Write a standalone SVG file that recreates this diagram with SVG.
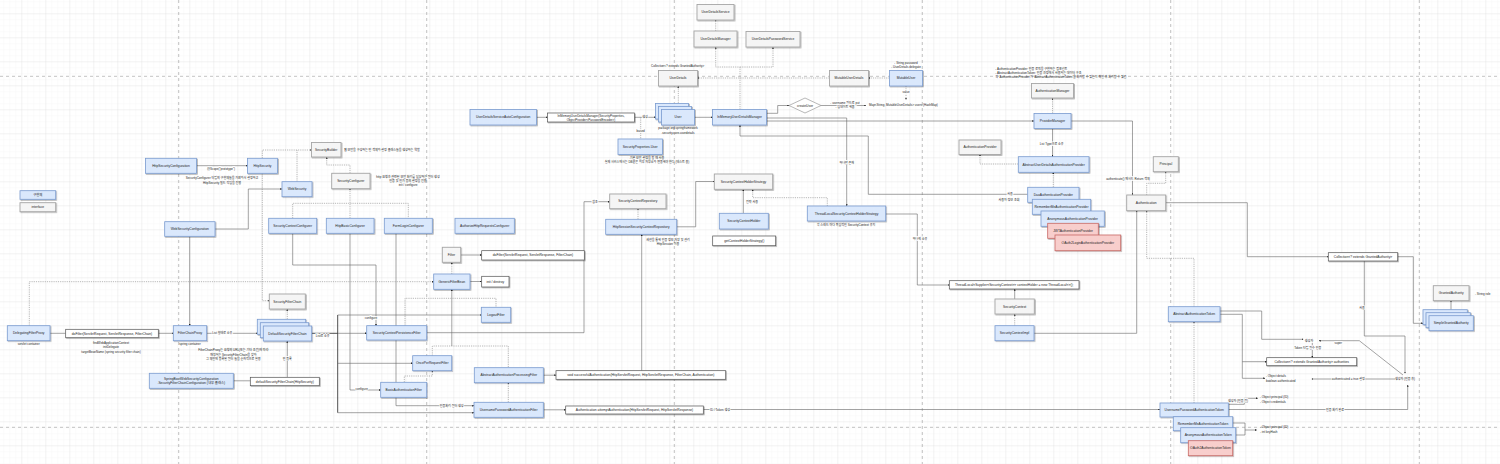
<svg xmlns="http://www.w3.org/2000/svg" width="1500" height="464" viewBox="0 0 1500 464">
<defs>
<pattern id="minor" x="21.3" y="13.3" width="6" height="6" patternUnits="userSpaceOnUse"><path d="M0 0H6M0 0V6" fill="none" stroke="#f1f1f1" stroke-width="0.5"/></pattern>
<pattern id="major" x="21.3" y="13.3" width="24" height="24" patternUnits="userSpaceOnUse"><path d="M0 0H24M0 0V24" fill="none" stroke="#dcdcdc" stroke-width="0.6"/></pattern>
<marker id="a" viewBox="0 0 10 10" refX="9" refY="5" markerWidth="3.2" markerHeight="3.2" orient="auto"><path d="M0 0L10 5L0 10z" fill="#222"/></marker>
<filter id="sh" x="-10%" y="-20%" width="130%" height="160%"><feDropShadow dx="0.8" dy="0.8" stdDeviation="0.5" flood-opacity="0.35"/></filter>
</defs>
<style>
.b{fill:#dae8fc;stroke:#7b9cd0;stroke-width:0.8;filter:url(#sh)}
.g{fill:#f5f5f5;stroke:#a6a6a6;stroke-width:0.9;filter:url(#sh)}
.r{fill:#f8cecc;stroke:#c86a66;stroke-width:0.8;filter:url(#sh)}
.w{fill:#ffffff;stroke:#555;stroke-width:0.7;filter:url(#sh)}
text{font-family:"Liberation Sans","Noto Sans CJK KR",sans-serif;fill:#222}
.t{font-size:3.3px;text-anchor:middle;dominant-baseline:central}
.s{font-size:3px;text-anchor:middle;dominant-baseline:central}
.sl{font-size:3px;dominant-baseline:central}
.lb{font-size:3px;text-anchor:middle;dominant-baseline:central;stroke:#fff;stroke-width:1.4;paint-order:stroke}
.c{fill:none;stroke:#666;stroke-width:0.6;marker-end:url(#a)}
.n{fill:none;stroke:#666;stroke-width:0.6}
.d{fill:none;stroke:#888;stroke-width:0.6;stroke-dasharray:1.2 1;marker-end:url(#a)}
.dn{fill:none;stroke:#888;stroke-width:0.6;stroke-dasharray:1.2 1}
.k{fill:none;stroke:#222;stroke-width:0.8;marker-end:url(#a)}
.kn{fill:none;stroke:#222;stroke-width:0.8}
.div{fill:none;stroke:#9a9a9a;stroke-width:0.6;stroke-dasharray:3 3}
</style>
<rect width="1500" height="464" fill="#fff"/>
<rect width="1500" height="464" fill="url(#minor)"/>
<rect width="1500" height="464" fill="url(#major)"/>
<g id="dividers">
<path class="div" d="M178.7 0V464M426.7 0V464M674.3 0V464M922.3 0V464M1170.7 0V464M1419.3 0V464M0 76.3H1500M0 427.3H1500"/>
</g>
<g id="connectors">
<path class="d" d="M715.7 31V19.7"/>
<path class="d" d="M740 109.5V67H715.7V47"/>
<path class="d" d="M740 67H773V47"/>
<path class="d" d="M829.5 78H697.7"/>
<path class="d" d="M889.5 78H868.5"/>
<path class="d" d="M906 86V99.5"/>
<path class="d" d="M678.3 109.5V86"/>
<path class="c" d="M536.5 117.3H547.5"/>
<path class="c" d="M634.5 117.3H656"/>
<path class="dn" d="M640.7 117.3V139"/>
<path class="c" d="M694.5 117.3H712.5"/>
<path class="c" d="M766.5 113.3H777.7V105.5H789"/>
<path class="c" d="M821 105.5H866"/>
<path class="c" d="M766.5 121H1034"/>
<path class="c" d="M766.5 118H846.7V206"/>
<path class="c" d="M1027.7 194.3H868.3V136H740V125"/>
<path class="d" d="M1052.5 113.5V98"/>
<path class="c" d="M1052.5 128.5V156.7"/>
<path class="c" d="M1071 121H1132.5V195"/>
<path class="d" d="M1018.3 164H980V154.5"/>
<path class="d" d="M1053.3 187.3V172.3"/>
<path class="d" d="M262.3 158.3V150H311.5"/>
<path class="dn" d="M297 181.7V150"/>
<path class="c" d="M196.5 165.7H247.5"/>
<path class="c" d="M215 229H248.3V189H282"/>
<path class="d" d="M350 173.3V165H326.7V157"/>
<path class="dn" d="M292.7 218.3V203.3H408.3V218.3"/>
<path class="d" d="M350 218.3V188.7"/>
<path class="d" d="M262.3 173.3V300.7H269.3"/>
<path class="c" d="M292.7 233.3V265H376V325.7"/>
<path class="c" d="M350 233.3V390H380.7"/>
<path class="c" d="M396 233.3V405.7H474"/>
<path class="d" d="M29.3 325.7V281.7H433.7"/>
<path class="c" d="M189.7 236.3V325.7"/>
<path class="c" d="M460.7 255H481.7"/>
<path class="d" d="M451.8 274V262.3"/>
<path class="c" d="M470 281.5H481.7"/>
<path class="c" d="M451.8 346V289.3"/>
<path class="dn" d="M405 325.7V298.3H496V307.3"/>
<path class="dn" d="M432.3 355.7V346H508.3V367.7"/>
<path class="d" d="M404.3 382.3V376H432.3V370.7"/>
<path class="d" d="M508.3 402.3V382.7"/>
<path class="c" d="M543.3 375.2H556"/>
<path class="c" d="M543.3 409.8H565.7"/>
<path class="c" d="M703.3 409.5H1160"/>
<path class="c" d="M426.7 332.7H584V201.7H609.7"/>
<path class="d" d="M638 219.3V208.7"/>
<path class="c" d="M641.7 370.7V234.3"/>
<path class="c" d="M676.7 226.8H695.7V181.5H714.3"/>
<path class="c" d="M743.3 213.3V189.3"/>
<path class="d" d="M827.3 206V197.7H752.7V189.3"/>
<path class="c" d="M885.7 214H917.3V285H949.3"/>
<path class="c" d="M1014.7 299V289"/>
<path class="d" d="M1014.7 325.7V314"/>
<path class="c" d="M1034 333.3H1136.7V210.7"/>
<path class="d" d="M1146.7 195V183.3H1165.7V171.7"/>
<path class="d" d="M1194 306.7V258.3H1146.7V210.7"/>
<path class="c" d="M1165.7 202.7H1247.3V256.7H1328.3"/>
<path class="c" d="M1364.3 261V336H1405V373.3"/>
<path class="c" d="M1397.7 256.7H1413.3V323.3H1423"/>
<path class="c" d="M1451 309.7V300.7"/>
<path class="c" d="M1220 311H1261.7V339.3H1303.3"/>
<path class="c" d="M1220 314.3H1242.3V378.3H1265"/>
<path class="c" d="M1242.3 361.7H1266.7"/>
<path class="c" d="M1312.3 343V357.7"/>
<path class="c" d="M1403 375L1359.3 340.7H1319"/>
<path class="c" d="M1395 379H1311.7"/>
<path class="c" d="M1228.3 409.5H1407.7V385"/>
<path class="c" d="M1228.3 404.3H1244.3V398.3H1257.7"/>
<path class="c" d="M1232.7 423H1245V430H1256.7"/>
<path class="n" d="M1235.7 435H1245V430"/>
<path class="d" d="M1194 403V321.7"/>
<path class="n" d="M50 333.3H65.7"/>
<path class="c" d="M158.3 333.3H173.3"/>
<path class="c" d="M206.7 333.3H257.3"/>
<path class="c" d="M287.3 377.3V341"/>
<path class="d" d="M287.3 319.3V309"/>
<path class="n" d="M233.3 380.8H250.3"/>
<path class="kn" d="M311.7 333.3H337.7M337.7 315V412.7"/>
<path class="c" d="M337.7 315H481.3"/>
<path class="c" d="M337.7 333.3H366.7"/>
<path class="c" d="M337.7 363.3H412.7"/>
<path class="c" d="M337.7 412.7H474"/>
</g>
<g id="labels">
<text class="lb" x="645" y="117.3">생성</text>
<text class="lb" x="640.7" y="131">based</text>
<text class="lb" x="845" y="103.3">- username 필드로 put</text>
<text class="lb" x="845" y="107.3">- 업데이트 해줌</text>
<text class="lb" x="906" y="92">value</text>
<text class="lb" x="846.7" y="163.3">하나만 존재</text>
<text class="lb" x="1010" y="194.3">사용</text>
<text class="lb" x="1009" y="200">사용자 정보 조회</text>
<text class="lb" x="1051.7" y="143.7">List Type으로 소유</text>
<text class="lb" x="1128" y="178.7">authenticate() 메서드 Return 객체</text>
<text class="lb" x="221" y="169.3">@Scope("prototype")</text>
<text class="lb" x="371" y="318">configure</text>
<text class="lb" x="361.7" y="389">configure</text>
<text class="lb" x="451.7" y="405.7">인증처리 필터 생성</text>
<text class="lb" x="595" y="201.7">참조</text>
<text class="lb" x="752" y="201.7">전략 사용</text>
<text class="lb" x="920" y="239.3">하나씩 소유</text>
<text class="lb" x="1362" y="308">사용</text>
<text class="lb" x="222.3" y="333.3">List 형태로 소유</text>
<text class="lb" x="287.3" y="359.3">빈 등록</text>
<text class="lb" x="322.7" y="336">List로 소유</text>
<text class="lb" x="720" y="409.5">ID / Token 생성</text>
<text class="lb" x="1307.7" y="347.7">Token 타입 필수 인증</text>
<text class="lb" x="1338.3" y="343.3">super</text>
<text class="lb" x="1348.3" y="379">authenticated = true 설정</text>
<text class="lb" x="1335" y="409.5">인증 처리 완료</text>
<text class="lb" x="1238" y="401">생성자 (인증 전)</text>
</g>
<g id="notes">
<text class="s" x="677.7" y="65.7">Collection&lt;? extends GrantedAuthority&gt;</text>
<text class="s" x="906" y="62.7">- String password</text>
<text class="s" x="906" y="66.7">- UserDetails delegate</text>
<text class="sl" x="869" y="104.7">Map&lt;String, MutableUserDetails&gt; users (HashMap)</text>
<text class="sl" x="995.3" y="69.3">- AuthenticationProvider: 인증 로직을 구현하는 컴포넌트</text>
<text class="sl" x="995.3" y="73">- AbstractAuthenticationToken: 인증 과정에서 사용되는 데이터 구조</text>
<text class="sl" x="995.3" y="76.7">각 'AuthenticationProvider'가 'AbstractAuthenticationToken'을 처리할 수 있는지 확인 후 처리할 수 있음</text>
<text class="s" x="678" y="128.3">package org.springframework</text>
<text class="s" x="678" y="132.7">.security.core.userdetails</text>
<text class="s" x="647" y="157.7">기본 보안 설정을 할 때 사용</text>
<text class="s" x="647" y="161.7">실제 서비스에서는 DB같은 외부 저장소와 연동해야 한다 (테스트 용)</text>
<text class="sl" x="344" y="150">웹 보안을 구성하는 빈 객체와 설정 클래스들을 생성하는 역할</text>
<text class="s" x="222" y="178.3">SecurityConfigurer 타입의 구현체들을 가져와서 설정하고</text>
<text class="s" x="222" y="182.7">HttpSecurity 빌드 작업을 진행</text>
<text class="s" x="408" y="176.7">http 요청과 관련된 보안 처리를 담당하는 필터 생성</text>
<text class="s" x="408" y="180.7">인증 및 인가 등의 설정을 진행</text>
<text class="s" x="408" y="185">init / configure</text>
<text class="s" x="668" y="240">세션을 통해 인증 정보 저장 및 관리</text>
<text class="s" x="668" y="243.7">HttpSession 이용</text>
<text class="s" x="846" y="225">각 스레드 마다 독립적인 SecurityContext 유지</text>
<text class="sl" x="1475" y="293.7">- String role</text>
<text class="s" x="28.7" y="344.3">servlet container</text>
<text class="s" x="111" y="342.7">findWebApplicationContext</text>
<text class="s" x="111" y="347">initDelegate</text>
<text class="s" x="111" y="351.7">targetBeanName (spring security filter chain)</text>
<text class="s" x="190" y="344.3">spring container</text>
<text class="s" x="233.3" y="350.3">FilterChainProxy는 요청의 URL(또는 기타 조건)에 따라</text>
<text class="s" x="233.3" y="354.7">매칭되는 SecurityFilterChain을 찾아</text>
<text class="s" x="233.3" y="358.7">그 체인에 등록된 필터 들을 순차적으로 실행</text>
<text class="s" x="1309" y="340.7">생성자</text>
<text class="sl" x="1266" y="375.7">- Object details</text>
<text class="sl" x="1266" y="380.7">boolean authenticated</text>
<text class="s" x="1405" y="379.3">생성자 (인증 후)</text>
<text class="sl" x="1260" y="397">- Object principal (ID)</text>
<text class="sl" x="1260" y="401.7">- Object credentials</text>
<text class="sl" x="1260" y="427.3">- Object principal (ID)</text>
<text class="sl" x="1260" y="432">- int keyHash</text>
</g>
<g id="n-UserDetailsService"><rect class="g" x="697" y="4.5" width="37" height="15.5"/><text class="t" x="715.5" y="12.2">UserDetailsService</text></g>
<g id="n-UserDetailsManager"><rect class="g" x="694" y="31" width="43" height="16"/><text class="t" x="715.5" y="39">UserDetailsManager</text></g>
<g id="n-UserDetailsPasswordService"><rect class="g" x="746" y="31.5" width="54" height="15.5"/><text class="t" x="773" y="39.2">UserDetailsPasswordService</text></g>
<g id="n-UserDetails"><rect class="g" x="658.5" y="70.5" width="39" height="15.5"/><text class="t" x="678" y="78.2">UserDetails</text></g>
<g id="n-MutableUserDetails"><rect class="g" x="829.5" y="70.5" width="39" height="15.5"/><text class="t" x="849" y="78.2">MutableUserDetails</text></g>
<g id="n-MutableUser"><rect class="b" x="889.5" y="70.5" width="33" height="15.5"/><text class="t" x="906" y="78.2">MutableUser</text></g>
<g id="n-AuthenticationManager"><rect class="g" x="1031.5" y="83.5" width="42" height="14.5"/><text class="t" x="1052.5" y="90.7">AuthenticationManager</text></g>
<g id="n-UserDetailsServiceAutoConfiguration"><rect class="b" x="470" y="109.5" width="66.5" height="15.5"/><text class="t" x="503.2" y="117.2">UserDetailsServiceAutoConfiguration</text></g>
<g id="n-InMemoryCtor"><rect class="w" x="547.5" y="113" width="87" height="9"/><text class="s" x="591" y="115.6">InMemoryUserDetailsManager(SecurityProperties,</text><text class="s" x="591" y="119.6">ObjectProvider&lt;PasswordEncoder&gt;)</text></g>
<g id="n-User"><rect class="b" x="655.5" y="103.5" width="33" height="15.5"/><rect class="b" x="658.5" y="106.5" width="33" height="15.5"/><rect class="b" x="661.5" y="109.5" width="33" height="15.5"/><text class="t" x="678" y="117.2">User</text></g>
<g id="n-InMemoryUserDetailsManager"><rect class="b" x="712.5" y="109.5" width="54" height="15.5"/><text class="t" x="739.5" y="117.2">InMemoryUserDetailsManager</text></g>
<g id="n-createUser"><path d="M805 98L821 105.5L805 113L789 105.5Z" fill="#fff" stroke="#888" stroke-width="0.6"/><text class="t" x="805" y="105.5">createUser</text></g>
<g id="n-ProviderManager"><rect class="b" x="1034" y="113.5" width="37" height="15"/><text class="t" x="1052.5" y="121">ProviderManager</text></g>
<g id="n-SecurityBuilder"><rect class="g" x="311.5" y="142.5" width="29.5" height="14.5"/><text class="t" x="326.2" y="149.7">SecurityBuilder</text></g>
<g id="n-SecurityPropertiesUser"><rect class="b" x="618" y="139" width="44.5" height="15.5"/><text class="t" x="640.2" y="146.7">SecurityProperties.User</text></g>
<g id="n-AuthenticationProvider"><rect class="g" x="959" y="140" width="42" height="14.5"/><text class="t" x="980" y="147.2">AuthenticationProvider</text></g>
<g id="n-HttpSecurityConfiguration"><rect class="b" x="145.5" y="158.3" width="51" height="15"/><text class="t" x="171" y="165.8">HttpSecurityConfiguration</text></g>
<g id="n-HttpSecurity"><rect class="b" x="247.5" y="158.3" width="30" height="15"/><text class="t" x="262.5" y="165.8">HttpSecurity</text></g>
<g id="n-AbstractUserDetailsAuthenticationProvider"><rect class="b" x="1018.3" y="156.7" width="70.7" height="15.6"/><text class="t" x="1053.6" y="164.5">AbstractUserDetailsAuthenticationProvider</text></g>
<g id="n-Principal"><rect class="g" x="1153.3" y="156.7" width="25" height="15"/><text class="t" x="1165.8" y="164.2">Principal</text></g>
<g id="n-SecurityConfigurer"><rect class="g" x="331.7" y="173.3" width="38.3" height="15.4"/><text class="t" x="350.8" y="181">SecurityConfigurer</text></g>
<g id="n-SecurityContextHolderStrategy"><rect class="g" x="714.3" y="174" width="58.4" height="15.3"/><text class="t" x="743.5" y="181.6">SecurityContextHolderStrategy</text></g>
<g id="n-WebSecurity"><rect class="b" x="282" y="181.7" width="30" height="15"/><text class="t" x="297" y="189.2">WebSecurity</text></g>
<g id="n-DaoAuthenticationProvider"><rect class="b" x="1027.7" y="187.3" width="51.3" height="15"/><text class="t" x="1053.3" y="194.8">DaoAuthenticationProvider</text></g>
<g id="legend-impl"><rect class="b" x="20" y="190.7" width="35.7" height="8.6"/><text class="t" x="37.8" y="195">구현체</text></g>
<g id="legend-interface"><rect class="g" x="20" y="202.7" width="35.7" height="9"/><text class="t" x="37.8" y="207.2">interface</text></g>
<g id="n-SecurityContextRepository"><rect class="g" x="609.7" y="194" width="56.3" height="14.7"/><text class="t" x="637.8" y="201.3">SecurityContextRepository</text></g>
<g id="n-Authentication"><rect class="g" x="1126.7" y="195" width="39" height="15.7"/><text class="t" x="1146.2" y="202.8">Authentication</text></g>
<g id="n-RememberMeAuthenticationProvider"><rect class="b" x="1032.3" y="199.3" width="58.4" height="15"/><text class="t" x="1061.5" y="206.8">RememberMeAuthenticationProvider</text></g>
<g id="n-ThreadLocalSecurityContextHolderStrategy"><rect class="b" x="807.3" y="206" width="78.4" height="15"/><text class="t" x="846.5" y="213.5">ThreadLocalSecurityContextHolderStrategy</text></g>
<g id="n-AnonymousAuthenticationProvider"><rect class="b" x="1041" y="211" width="63.3" height="15.3"/><text class="t" x="1072.6" y="218.6">AnonymousAuthenticationProvider</text></g>
<g id="n-SecurityContextHolder"><rect class="b" x="719.3" y="213.3" width="49" height="15.7"/><text class="t" x="743.8" y="221.1">SecurityContextHolder</text></g>
<g id="n-SecurityContextConfigurer"><rect class="b" x="268.7" y="218.3" width="48" height="15"/><text class="t" x="292.7" y="225.8">SecurityContextConfigurer</text></g>
<g id="n-HttpBasicConfigurer"><rect class="b" x="326.3" y="218.3" width="47.7" height="15"/><text class="t" x="350.1" y="225.8">HttpBasicConfigurer</text></g>
<g id="n-FormLoginConfigurer"><rect class="b" x="384.3" y="218.3" width="48" height="15"/><text class="t" x="408.3" y="225.8">FormLoginConfigurer</text></g>
<g id="n-AuthorizeHttpRequestsConfigurer"><rect class="b" x="455" y="218.3" width="59.3" height="15"/><text class="t" x="484.6" y="225.8">AuthorizeHttpRequestsConfigurer</text></g>
<g id="n-HttpSessionSecurityContextRepository"><rect class="b" x="605.7" y="219.3" width="71" height="15"/><text class="t" x="641.2" y="226.8">HttpSessionSecurityContextRepository</text></g>
<g id="n-WebSecurityConfiguration"><rect class="b" x="164.7" y="221.7" width="50.3" height="14.6"/><text class="t" x="189.8" y="229">WebSecurityConfiguration</text></g>
<g id="n-JWTAuthenticationProvider"><rect class="r" x="1047.7" y="223.3" width="50.6" height="15"/><text class="t" x="1073" y="230.8">JWTAuthenticationProvider</text></g>
<g id="n-OAuth2LoginAuthenticationProvider"><rect class="r" x="1055" y="235" width="65.7" height="15.7"/><text class="t" x="1087.8" y="242.8">OAuth2LoginAuthenticationProvider</text></g>
<g id="n-getContextHolderStrategy"><rect class="w" x="712.7" y="236" width="63" height="9.7"/><text class="t" x="744.2" y="240.8">getContextHolderStrategy()</text></g>
<g id="n-Filter"><rect class="g" x="442.3" y="247.3" width="18.4" height="15"/><text class="t" x="451.5" y="254.8">Filter</text></g>
<g id="n-doFilterSig"><rect class="w" x="481.7" y="250.7" width="102.6" height="9.3"/><text class="t" x="533" y="255.3">doFilter(ServletRequest, ServletResponse, FilterChain)</text></g>
<g id="n-CollectionGA"><rect class="w" x="1328.3" y="252.7" width="69.4" height="8.3"/><text class="t" x="1363" y="256.8">Collection&lt;? extends GrantedAuthority&gt;</text></g>
<g id="n-GenericFilterBean"><rect class="b" x="433.7" y="274" width="36.3" height="15.3"/><text class="t" x="451.8" y="281.6">GenericFilterBean</text></g>
<g id="n-initDestroy"><rect class="w" x="481.7" y="276.3" width="27.3" height="10.7"/><text class="t" x="495.3" y="281.6">init / destroy</text></g>
<g id="n-ThreadLocalHolder"><rect class="w" x="949.3" y="280.7" width="129.7" height="8.3"/><text class="t" x="1014.2" y="284.8">ThreadLocal&lt;Supplier&lt;SecurityContext&gt;&gt; contextHolder = new ThreadLocal&lt;&gt;();</text></g>
<g id="n-GrantedAuthority"><rect class="g" x="1433.3" y="285.7" width="35.7" height="15"/><text class="t" x="1451.2" y="293.2">GrantedAuthority</text></g>
<g id="n-SecurityFilterChain"><rect class="g" x="269.3" y="294" width="36" height="15"/><text class="t" x="287.3" y="301.5">SecurityFilterChain</text></g>
<g id="n-SecurityContext"><rect class="g" x="995" y="299" width="39.3" height="15"/><text class="t" x="1014.6" y="306.5">SecurityContext</text></g>
<g id="n-LogoutFilter"><rect class="b" x="481.3" y="307.3" width="29.4" height="15"/><text class="t" x="496" y="314.8">LogoutFilter</text></g>
<g id="n-AbstractAuthenticationToken"><rect class="b" x="1168.3" y="306.7" width="51.7" height="15"/><text class="t" x="1194.2" y="314.2">AbstractAuthenticationToken</text></g>
<g id="n-SimpleGrantedAuthority"><rect class="b" x="1423" y="309.7" width="44.3" height="15"/><rect class="b" x="1426" y="312.7" width="44.3" height="15"/><rect class="b" x="1429" y="315.7" width="44.3" height="15"/><text class="t" x="1451.2" y="323.2">SimpleGrantedAuthority</text></g>
<g id="n-DelegatingFilterProxy"><rect class="b" x="7.3" y="325.7" width="42.7" height="15"/><text class="t" x="28.7" y="333.2">DelegatingFilterProxy</text></g>
<g id="n-doFilterSig2"><rect class="w" x="65.7" y="329.3" width="92.6" height="8.4"/><text class="t" x="112" y="333.5">doFilter(ServletRequest, ServletResponse, FilterChain)</text></g>
<g id="n-FilterChainProxy"><rect class="b" x="173.3" y="325.7" width="33.4" height="15"/><text class="t" x="190" y="333.2">FilterChainProxy</text></g>
<g id="n-DefaultSecurityFilterChain"><rect class="b" x="257.3" y="319.3" width="48.4" height="15"/><rect class="b" x="260.3" y="322.7" width="48.4" height="15"/><rect class="b" x="263.3" y="326" width="48.4" height="15"/><text class="t" x="287.5" y="333.5">DefaultSecurityFilterChain</text></g>
<g id="n-SecurityContextPersistenceFilter"><rect class="b" x="366.7" y="325.7" width="60" height="14.3"/><text class="t" x="396.7" y="332.9">SecurityContextPersistenceFilter</text></g>
<g id="n-SecurityContextImpl"><rect class="b" x="995" y="325.7" width="39" height="15"/><text class="t" x="1014.5" y="333.2">SecurityContextImpl</text></g>
<g id="n-OncePerRequestFilter"><rect class="b" x="412.7" y="355.7" width="39" height="15"/><text class="t" x="432.2" y="363.2">OncePerRequestFilter</text></g>
<g id="n-CollectionAuthorities"><rect class="w" x="1266.7" y="357.7" width="90" height="8"/><text class="t" x="1311.7" y="361.7">Collection&lt;? extends GrantedAuthority&gt; authorities</text></g>
<g id="n-AbstractAuthenticationProcessingFilter"><rect class="b" x="474.3" y="367.7" width="69" height="15"/><text class="t" x="508.8" y="375.2">AbstractAuthenticationProcessingFilter</text></g>
<g id="n-successfulAuthentication"><rect class="w" x="556" y="370.7" width="169.7" height="8.6"/><text class="t" x="640.8" y="375">void successfulAuthentication(HttpServletRequest, HttpServletResponse, FilterChain, Authentication)</text></g>
<g id="n-SpringBootWebSecurityConfiguration"><rect class="b" x="149.3" y="373.3" width="84" height="15"/><text class="t" x="191.3" y="378.6">SpringBootWebSecurityConfiguration</text><text class="t" x="191.3" y="383.2">.SecurityFilterChainConfiguration (내부 클래스)</text></g>
<g id="n-defaultSecurityFilterChain"><rect class="w" x="250.3" y="377.3" width="69" height="8.4"/><text class="t" x="284.8" y="381.5">defaultSecurityFilterChain(HttpSecurity)</text></g>
<g id="n-BasicAuthenticationFilter"><rect class="b" x="380.7" y="382.3" width="46" height="15"/><text class="t" x="403.7" y="389.8">BasicAuthenticationFilter</text></g>
<g id="n-UsernamePasswordAuthenticationFilter"><rect class="b" x="474" y="402.3" width="69.3" height="15"/><text class="t" x="508.6" y="409.8">UsernamePasswordAuthenticationFilter</text></g>
<g id="n-attemptAuthentication"><rect class="w" x="565.7" y="406" width="137.6" height="8"/><text class="t" x="634.5" y="410">Authentication attemptAuthentication(HttpServletRequest, HttpServletResponse)</text></g>
<g id="n-UsernamePasswordAuthenticationToken"><rect class="b" x="1160" y="403" width="68.3" height="14"/><text class="t" x="1194.2" y="410">UsernamePasswordAuthenticationToken</text></g>
<g id="n-RememberMeAuthenticationToken"><rect class="b" x="1173.3" y="416.7" width="59.4" height="14"/><text class="t" x="1203" y="423.7">RememberMeAuthenticationToken</text></g>
<g id="n-AnonymousAuthenticationToken"><rect class="b" x="1180.7" y="427.7" width="55" height="15"/><text class="t" x="1208.2" y="435.2">AnonymousAuthenticationToken</text></g>
<g id="n-OAuth2AuthenticationToken"><rect class="r" x="1188.3" y="440.7" width="44.4" height="15"/><text class="t" x="1210.5" y="448.2">OAuth2AuthenticationToken</text></g>
</svg>
